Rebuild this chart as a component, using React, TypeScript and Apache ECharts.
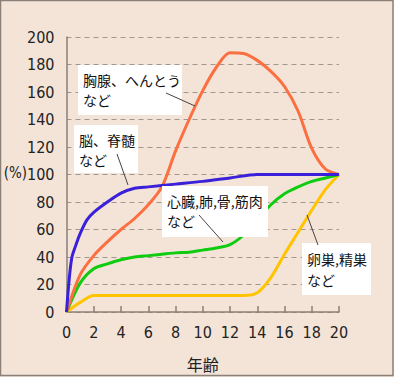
import React, { useEffect, useRef } from "react";
import * as echarts from "echarts";

// ---- data (age in years, % of size at age 20) ----
const lymphX = [0, 1, 2, 3, 4, 5, 6, 7, 8, 9, 10, 11, 12, 13, 14, 15, 16, 17, 18, 19, 20];
const lymphY = [0, 27, 41, 51, 60, 68, 78, 91, 117, 140, 161, 178, 188.5, 188, 183, 175, 164, 146, 119, 104, 100];

const neuralX = [0, 0.2, 0.4, 0.7, 1, 1.5, 2, 3, 4, 5, 6, 8, 10, 12, 14, 16, 18, 20];
const neuralY = [0, 24, 40, 49, 57, 67, 72.5, 80, 86.5, 90, 91, 93, 95, 97.5, 100, 100, 100, 100];

const generalX = [0, 1, 2, 3, 4, 5, 6, 7, 8, 9, 10, 11, 12, 13, 14, 15, 16, 17, 18, 19, 20];
const generalY = [0, 21, 31.5, 35, 38, 40, 41, 42, 43, 43.5, 45, 46.5, 49, 56, 67, 78, 86, 91, 95, 97.5, 100];

const reproX = [0, 1, 2, 4, 6, 8, 10, 12, 13, 14, 15, 16, 17, 18, 19, 20];
const reproY = [0, 7, 12, 12, 12, 12, 12, 12, 12, 14, 25, 42, 58, 74, 89, 100];

const xTicks = { min: 0, max: 20, interval: 2 };
const yTicks = { min: 0, max: 200, interval: 20 };

const seriesNames = ["胸腺、へんとう など", "脳、脊髄 など", "心臓,肺,骨,筋肉 など", "卵巣,精巣 など"];
const annotationTexts = ["胸腺、へんとう\nなど", "脳、脊髄\nなど", "心臓,肺,骨,筋肉\nなど", "卵巣,精巣\nなど"];
const xAxisTitle = "年齢";
const yAxisTitle = "(%)";

const pair = (xs: number[], ys: number[]) => xs.map((x, i) => [x, ys[i]]);

export default function App() {
  const ref = useRef<HTMLDivElement>(null);
  useEffect(() => {
    document.body.style.margin = "0";
    const chart = echarts.init(ref.current!, null, { renderer: "svg" });
    const numFont = "'Liberation Sans Narrow', 'DejaVu Sans Condensed', sans-serif";
    const cjk = "'Noto Sans CJK JP', sans-serif";
    const axisColor = "#8a8078";
    const boxes = [
      { r: { x: 78, y: 65, width: 104, height: 50 }, t: annotationTexts[0], lh: 20, line: [166, 93, 195, 106] },
      { r: { x: 74, y: 125, width: 64, height: 48 }, t: annotationTexts[1], lh: 20, line: [117, 154, 128, 185] },
      { r: { x: 162, y: 186, width: 106, height: 51 }, t: annotationTexts[2], lh: 20, line: [199, 215, 223, 242] },
      { r: { x: 302, y: 243, width: 69, height: 52 }, t: annotationTexts[3], lh: 21, line: [318, 245, 307, 215] },
    ];
    const graphics: any[] = [];
    boxes.forEach((b) => {
      graphics.push({ type: "rect", shape: b.r, style: { fill: "#ffffff" }, z: 100 });
      graphics.push({
        type: "text",
        x: b.r.x + 5,
        y: b.r.y + 5,
        style: { text: b.t, font: `14px ${cjk}`, fill: "#111", lineHeight: b.lh },
        z: 101,
      });
      graphics.push({
        type: "line",
        shape: { x1: b.line[0], y1: b.line[1], x2: b.line[2], y2: b.line[3] },
        style: { stroke: "#444", lineWidth: 1 },
        z: 102,
      });
    });
    graphics.push({
      type: "text",
      x: 27,
      y: 173,
      style: { text: yAxisTitle, font: `15px ${numFont}`, fill: "#222", verticalAlign: "middle", align: "right" },
      z: 50,
    });
    graphics.push({
      type: "rect",
      shape: { x: 0.5, y: 0.5, width: 392.5, height: 375 },
      style: { fill: "none", stroke: "#8a8078", lineWidth: 1.5 },
      z: 200,
    });

    const mk = (name: string, data: number[][], color: string) => ({
      name,
      type: "line",
      data,
      smooth: 0.3,
      symbol: "none",
      lineStyle: { color, width: 3 },
    });

    chart.setOption({
      animation: false,
      backgroundColor: "#f4e4d8",
      grid: { left: 66.5, right: 55, top: 37, bottom: 65, containLabel: false },
      xAxis: {
        type: "value",
        ...xTicks,
        name: xAxisTitle,
        nameLocation: "middle",
        nameGap: 44,
        nameTextStyle: { fontFamily: cjk, fontSize: 16, color: "#222" },
        axisLine: { show: true, lineStyle: { color: axisColor, width: 1.5 } },
        axisTick: { show: true, inside: true, length: 6, lineStyle: { color: axisColor, width: 1.5 } },
        axisLabel: { fontFamily: numFont, fontSize: 16, color: "#222", margin: 12 },
        splitLine: { show: false },
      },
      yAxis: {
        type: "value",
        ...yTicks,
        axisLine: { show: true, lineStyle: { color: axisColor, width: 1.5 } },
        axisTick: { show: false },
        axisLabel: { fontFamily: numFont, fontSize: 16, color: "#222", margin: 12 },
        splitLine: { show: true, lineStyle: { color: "#a09890", type: [5, 4], width: 1.2 } },
      },
      series: [
        mk(seriesNames[3], pair(reproX, reproY), "#ffc300"),
        mk(seriesNames[2], pair(generalX, generalY), "#10cc10"),
        mk(seriesNames[0], pair(lymphX, lymphY), "#fb6f40"),
        mk(seriesNames[1], pair(neuralX, neuralY), "#3a20d8"),
      ],
      graphic: graphics,
    });
    return () => chart.dispose();
  }, []);
  return <div ref={ref} style={{ position: "fixed", left: 0, top: 0, width: 394, height: 377 }} />;
}
